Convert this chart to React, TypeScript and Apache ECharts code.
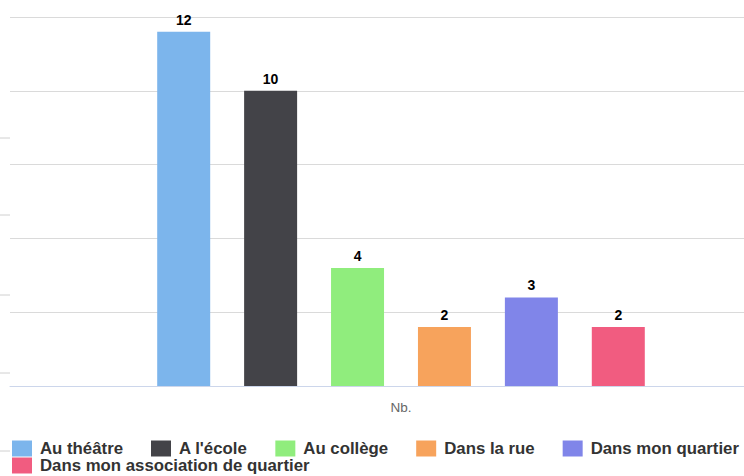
import React, { useEffect, useRef } from "react";
import * as echarts from "echarts";

const categories = ["Nb."];
const seriesNames = [
  "Au théâtre",
  "A l'école",
  "Au collège",
  "Dans la rue",
  "Dans mon quartier",
  "Dans mon association de quartier",
];
const seriesValues = [12, 10, 4, 2, 3, 2];
const colors = ["#7cb5ec", "#434348", "#90ed7d", "#f7a35c", "#8085e9", "#f15c80"];
const leftMarks = [138, 215, 295, 373, 451];

export default function App() {
  const ref = useRef<HTMLDivElement>(null);
  useEffect(() => {
    if (!ref.current) return;
    const chart = echarts.init(ref.current, undefined, { renderer: "svg" });
    const legendText = {
      fontFamily: "Liberation Sans, Arial, sans-serif",
      fontSize: 16.8,
      lineHeight: 15,
      fontWeight: "bold" as const,
      color: "#333",
      padding: [0, 0, 0, 3],
    };
    chart.setOption({
      animation: false,
      color: colors,
      grid: {
        left: 10,
        width: 782,
        top: 17,
        bottom: 90,
        containLabel: false,
        outerBoundsMode: "none",
      },
      legend: [
        {
          data: seriesNames.slice(0, 5),
          left: 12,
          top: 440,
          width: 740,
          padding: 0,
          orient: "horizontal",
          itemWidth: 20,
          itemHeight: 16,
          itemGap: 28,
          icon: "rect",
          textStyle: legendText,
          selectedMode: false,
        },
        {
          data: seriesNames.slice(5),
          left: 12,
          top: 457,
          padding: 0,
          itemWidth: 20,
          itemHeight: 16,
          icon: "rect",
          textStyle: legendText,
          selectedMode: false,
        },
      ],
      xAxis: {
        type: "category",
        data: categories,
        axisLine: { lineStyle: { color: "#ccd6eb", width: 1 } },
        axisTick: { show: false },
        axisLabel: {
          color: "#666",
          fontSize: 13.5,
          margin: 14,
          fontFamily: "Liberation Sans, Arial, sans-serif",
        },
      },
      yAxis: {
        type: "value",
        min: 0,
        max: 12.5,
        interval: 2.5,
        axisLabel: { show: false },
        axisLine: { show: false },
        axisTick: { show: false },
        splitLine: { lineStyle: { color: "#dadada", width: 1 } },
      },
      graphic: leftMarks.map((y) => ({
        type: "line",
        shape: { x1: 0, y1: y, x2: 10, y2: y },
        style: { stroke: "#d0d0d0", lineWidth: 1 },
      })),
      series: seriesNames.map((name, i) => ({
        name,
        type: "bar",
        data: [seriesValues[i]],
        barWidth: 53,
        barGap: "64%",
        itemStyle: { color: colors[i] },
        label: {
          show: true,
          position: "top",
          distance: 5,
          color: "#000",
          fontSize: 14,
          fontWeight: "bold",
          fontFamily: "Liberation Sans, Arial, sans-serif",
        },
      })),
    });
    return () => chart.dispose();
  }, []);
  return (
    <div
      ref={ref}
      style={{ position: "fixed", left: 0, top: 0, width: 744, height: 476, background: "#fff" }}
    />
  );
}
